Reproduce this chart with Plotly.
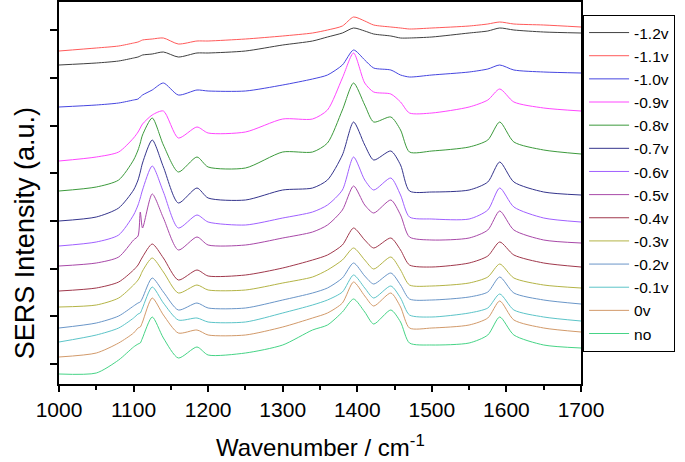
import plotly.graph_objects as go

# Raman shift grid (cm-1) the spectra were read at
wavenumber = [1000, 1050, 1080, 1100, 1106, 1109, 1112, 1125, 1140, 1160,
              1185, 1200, 1250, 1300, 1340, 1360, 1380, 1395, 1410, 1422,
              1445, 1458, 1470, 1500, 1550, 1575, 1591, 1610, 1650, 1700]

# stacked SERS intensities (a.u., offsets included), one list per potential
s_m12 = [319, 321, 323, 326, 327, 328, 329, 330, 332, 327, 331, 331, 333, 339, 343,
         347, 351, 356, 353, 350, 348, 346, 346, 347, 351, 353, 356, 354, 352, 351]
s_m11 = [333, 336, 338, 341, 342, 343, 344, 345, 346, 340, 343, 343, 345, 348, 351,
         354, 358, 367, 363, 359, 357, 356, 355, 356, 358, 360, 362, 360, 359, 357]
s_m10 = [277, 279, 281, 284, 285, 287, 289, 294, 301, 289, 294, 293, 293, 299, 305,
         309, 319, 334, 324, 316, 314, 309, 307, 309, 312, 315, 319, 314, 312, 311]
s_m09 = [223, 227, 232, 246, 252, 256, 260, 269, 273, 246, 257, 251, 252, 265, 265,
         274, 306, 331, 301, 292, 290, 282, 271, 271, 277, 284, 295, 282, 276, 273]
s_m08 = [193, 197, 204, 224, 234, 241, 249, 266, 239, 212, 227, 217, 216, 232, 232,
         241, 274, 301, 279, 262, 267, 254, 232, 233, 237, 244, 262, 242, 234, 230]
s_m07 = [163, 167, 176, 194, 204, 212, 221, 244, 217, 181, 196, 186, 184, 194, 196,
         204, 229, 262, 239, 224, 233, 219, 193, 192, 194, 202, 222, 202, 192, 189]
s_m06 = [138, 142, 149, 169, 179, 186, 194, 218, 192, 156, 169, 162, 159, 166, 172,
         179, 194, 227, 204, 194, 206, 189, 167, 165, 165, 174, 196, 177, 166, 162]
s_m05 = [118, 121, 127, 144, 148, 172, 156, 190, 166, 134, 147, 139, 139, 146, 152,
         159, 174, 198, 179, 171, 184, 169, 147, 144, 146, 154, 173, 154, 144, 141]
s_m04 = [93, 96, 102, 114, 119, 123, 127, 140, 126, 104, 114, 108, 109, 116, 124,
         129, 139, 156, 144, 136, 146, 134, 119, 117, 121, 128, 142, 129, 121, 117]
s_m03 = [77, 79, 86, 99, 104, 108, 113, 126, 112, 91, 99, 94, 94, 101, 107,
         114, 124, 136, 124, 115, 127, 114, 99, 98, 101, 107, 120, 106, 99, 96]
s_m02 = [56, 61, 68, 78, 81, 82, 86, 106, 92, 74, 81, 76, 76, 84, 91,
         96, 106, 121, 108, 100, 111, 99, 85, 84, 87, 92, 107, 91, 84, 80]
s_m01 = [42, 49, 56, 66, 70, 71, 76, 97, 81, 64, 66, 62, 62, 71, 79,
         84, 92, 109, 96, 86, 98, 86, 69, 67, 71, 76, 90, 74, 67, 63]
s_0 = [27, 31, 41, 51, 56, 57, 62, 86, 69, 51, 54, 49, 49, 57, 66,
       71, 81, 102, 88, 78, 91, 77, 56, 56, 59, 66, 83, 64, 56, 52]
s_no = [10, 11, 24, 37, 40, 41, 46, 67, 46, 26, 37, 29, 31, 39, 54,
        59, 72, 85, 72, 60, 74, 62, 41, 39, 41, 49, 67, 49, 39, 36]

labels = ['-1.2v', '-1.1v', '-1.0v', '-0.9v', '-0.8v', '-0.7v', '-0.6v',
          '-0.5v', '-0.4v', '-0.3v', '-0.2v', '-0.1v', '0v', 'no']
series = [s_m12, s_m11, s_m10, s_m09, s_m08, s_m07, s_m06,
          s_m05, s_m04, s_m03, s_m02, s_m01, s_0, s_no]
colors = ['#404040', '#ff5a5a', '#4646e0', '#ff46ff', '#3c9a3c', '#34348c', '#a060ff',
          '#a848a8', '#a0384c', '#b4b446', '#6a96c8', '#5cc4c8', '#d29a6a', '#46d486']

font = 'Liberation Sans, Arial, sans-serif'

fig = go.Figure()
for name, ys, c in zip(labels, series, colors):
    fig.add_trace(go.Scatter(x=wavenumber, y=ys, name=name, mode='lines',
                             legendgroup=name,
                             line=dict(color=c, width=1, shape='spline', smoothing=0.7)))

fig.update_layout(
    width=685, height=462,
    margin=dict(l=59, r=104, t=2, b=78, autoexpand=False),
    plot_bgcolor='white', paper_bgcolor='white',
    font=dict(family=font, color='black'),
    showlegend=True,
    legend=dict(x=1.004, xanchor='left', y=0.966, yanchor='top',
                bordercolor='black', borderwidth=1, bgcolor='white',
                font=dict(size=15.5), itemwidth=40, tracegroupgap=0.35,
                traceorder='normal'),
    xaxis=dict(range=[1000, 1700], tickmode='linear', tick0=1000, dtick=100,
               ticks='outside', ticklen=6, tickwidth=1.5, tickcolor='black',
               showline=True, linecolor='black', linewidth=1.5, mirror=True,
               showgrid=False, zeroline=False, tickfont=dict(size=21),
               minor=dict(dtick=50, ticks='outside', ticklen=4, tickwidth=1.5,
                          tickcolor='black', showgrid=False)),
    yaxis=dict(range=[0, 382], tickmode='linear', tick0=20, dtick=47.7,
               ticks='outside', ticklen=7, tickwidth=1.5, tickcolor='black',
               showticklabels=False,
               showline=True, linecolor='black', linewidth=1.5, mirror=True,
               showgrid=False, zeroline=False),
    annotations=[
        dict(text='SERS Intensity (a.u.)', textangle=-90, xref='paper', yref='paper',
             x=-0.065, y=0.395, xanchor='center', yanchor='middle', showarrow=False,
             font=dict(size=27)),
        dict(text='Wavenumber / cm<sup>-1</sup>', xref='paper', yref='paper',
             x=0.5, y=-0.163, xanchor='center', yanchor='middle', showarrow=False,
             font=dict(size=24)),
    ],
)

# the page body has a default 8px margin; drop it so the figure sits at 0,0
fig.write_html("out.html", config={'displayModeBar': False},
               post_script="document.body.style.margin='0';")
